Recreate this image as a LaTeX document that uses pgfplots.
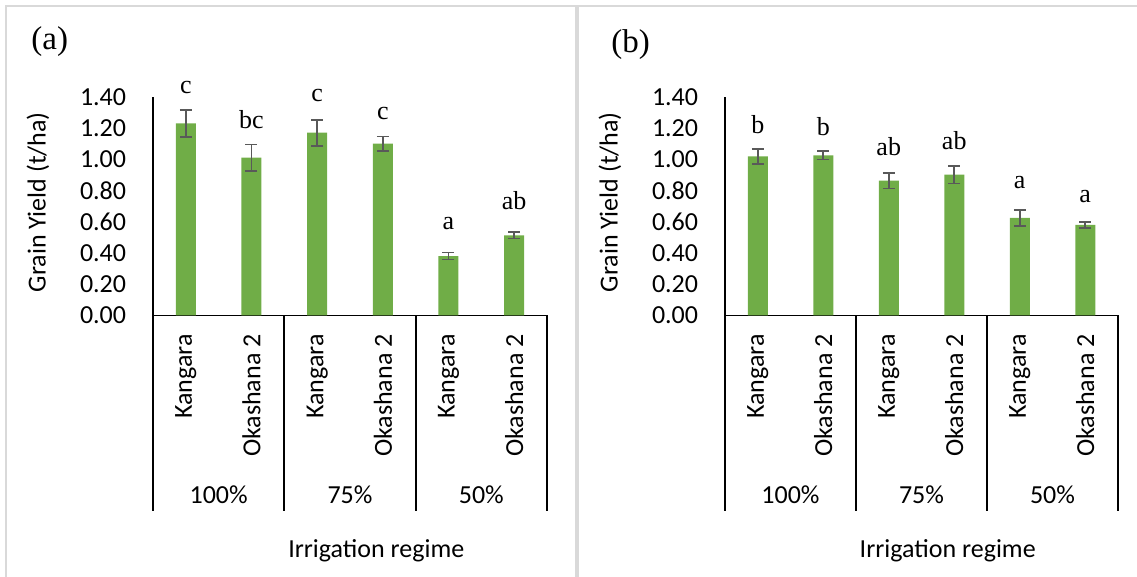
\documentclass[border=0pt]{standalone}
\usepackage{fontspec}
\setmainfont{Carlito}
\newfontfamily\serifont{Liberation Serif}
\usepackage{pgfplots}
\pgfplotsset{compat=1.18}
\definecolor{barg}{HTML}{70AD47}
\definecolor{errg}{HTML}{595959}
\definecolor{frameg}{HTML}{D9D9D9}
\newcommand\fs{\fontsize{13}{15.6}\selectfont}
\pgfplotsset{panel/.style={
  scale only axis, height=109.25pt,
  xmin=-0.5, xmax=5.5, ymin=0, ymax=1.4,
  axis lines*=left,
  axis line style={line width=0.9pt, black},
  clip=false,
  /pgf/number format/assume math mode=true,
  ytick={0,0.2,0.4,0.6,0.8,1.0,1.2,1.4},
  yticklabel style={/pgf/number format/.cd,fixed,fixed zerofill,precision=2,/tikz/.cd,font=\fs,inner sep=0pt},
  yticklabel shift=13.25pt,
  xtick={0,1,2,3,4,5},
  xticklabels={Kangara,Okashana 2,Kangara,Okashana 2,Kangara,Okashana 2},
  xticklabel style={rotate=90,anchor=east,font=\fs,inner sep=0pt},
  xticklabel shift=9.25pt,
  major tick length=0pt,
  tick style={draw=none},
  every axis y label/.style={at={([xshift=-57.5pt,yshift=2pt]axis description cs:0,0.5)},rotate=90,anchor=center,font=\fs},
  ylabel={Grain Yield (t/ha)},
}}
\pgfplotsset{barstyle/.style={ybar, bar width=10pt, fill=barg, draw=none,
  error bars/.cd, y dir=both, y explicit,
  error bar style={errg, line width=0.9pt},
  error mark options={rotate=90, mark size=3pt, errg, line width=0.9pt}}}
\newcommand\groups{%
  \draw[line width=0.9pt] (axis cs:-0.5,0) -- ++(0pt,-98pt);
  \draw[line width=0.9pt] (axis cs:1.5,0) -- ++(0pt,-98pt);
  \draw[line width=0.9pt] (axis cs:3.5,0) -- ++(0pt,-98pt);
  \draw[line width=0.9pt] (axis cs:5.5,0) -- ++(0pt,-98pt);
  \node[font=\fs,yshift=-89.75pt] at (axis cs:0.5,0) {100\%};
  \node[font=\fs,yshift=-89.75pt] at (axis cs:2.5,0) {75\%};
  \node[font=\fs,yshift=-89.75pt] at (axis cs:4.5,0) {50\%};
  \node[font=\fs,yshift=-117.75pt] at (axis cs:2.9,0) {Irrigation regime};
}
\begin{document}
\begin{tikzpicture}
\useasboundingbox (0,0) rectangle (568.5pt,288.5pt);
\draw[frameg, line width=1pt] (3pt,0) -- (3pt,285.5pt) -- (287.85pt,285.5pt) -- (287.85pt,0);
\draw[frameg, line width=1pt] (289pt,0) -- (289pt,285.5pt) -- (568.5pt,285.5pt);
\node[anchor=base west, inner sep=0pt, font=\serifont\fontsize{16.5}{19}\selectfont] at (15.5pt,263.5pt) {(a)};
\node[anchor=base west, inner sep=0pt, font=\serifont\fontsize{16.5}{19}\selectfont] at (305.5pt,262pt) {(b)};

\begin{axis}[panel, width=197pt, at={(76.5pt,130.75pt)}, anchor=south west]
\addplot[barstyle] coordinates {
 (0,1.231) +- (0,0.088)
 (1,1.011) +- (0,0.085)
 (2,1.171) +- (0,0.083)
 (3,1.101) +- (0,0.046)
 (4,0.381) +- (0,0.022)
 (5,0.514) +- (0,0.021)
};
\groups
\node[anchor=base,font=\serifont\fs] at (axis cs:0,1.422) {c};
\node[anchor=base,font=\serifont\fs] at (axis cs:1,1.199) {bc};
\node[anchor=base,font=\serifont\fs] at (axis cs:2,1.370) {c};
\node[anchor=base,font=\serifont\fs] at (axis cs:3,1.257) {c};
\node[anchor=base,font=\serifont\fs] at (axis cs:4,0.554) {a};
\node[anchor=base,font=\serifont\fs] at (axis cs:5,0.680) {ab};
\end{axis}

\begin{axis}[panel, width=196.5pt, at={(362.5pt,130.75pt)}, anchor=south west]
\addplot[barstyle] coordinates {
 (0,1.020) +- (0,0.047)
 (1,1.026) +- (0,0.026)
 (2,0.864) +- (0,0.050)
 (3,0.902) +- (0,0.056)
 (4,0.625) +- (0,0.051)
 (5,0.580) +- (0,0.019)
};
\groups
\node[anchor=base,font=\serifont\fs] at (axis cs:0,1.163) {b};
\node[anchor=base,font=\serifont\fs] at (axis cs:1,1.152) {b};
\node[anchor=base,font=\serifont\fs] at (axis cs:2,1.028) {ab};
\node[anchor=base,font=\serifont\fs] at (axis cs:3,1.065) {ab};
\node[anchor=base,font=\serifont\fs] at (axis cs:4,0.815) {a};
\node[anchor=base,font=\serifont\fs] at (axis cs:5,0.725) {a};
\end{axis}
\end{tikzpicture}
\end{document}
